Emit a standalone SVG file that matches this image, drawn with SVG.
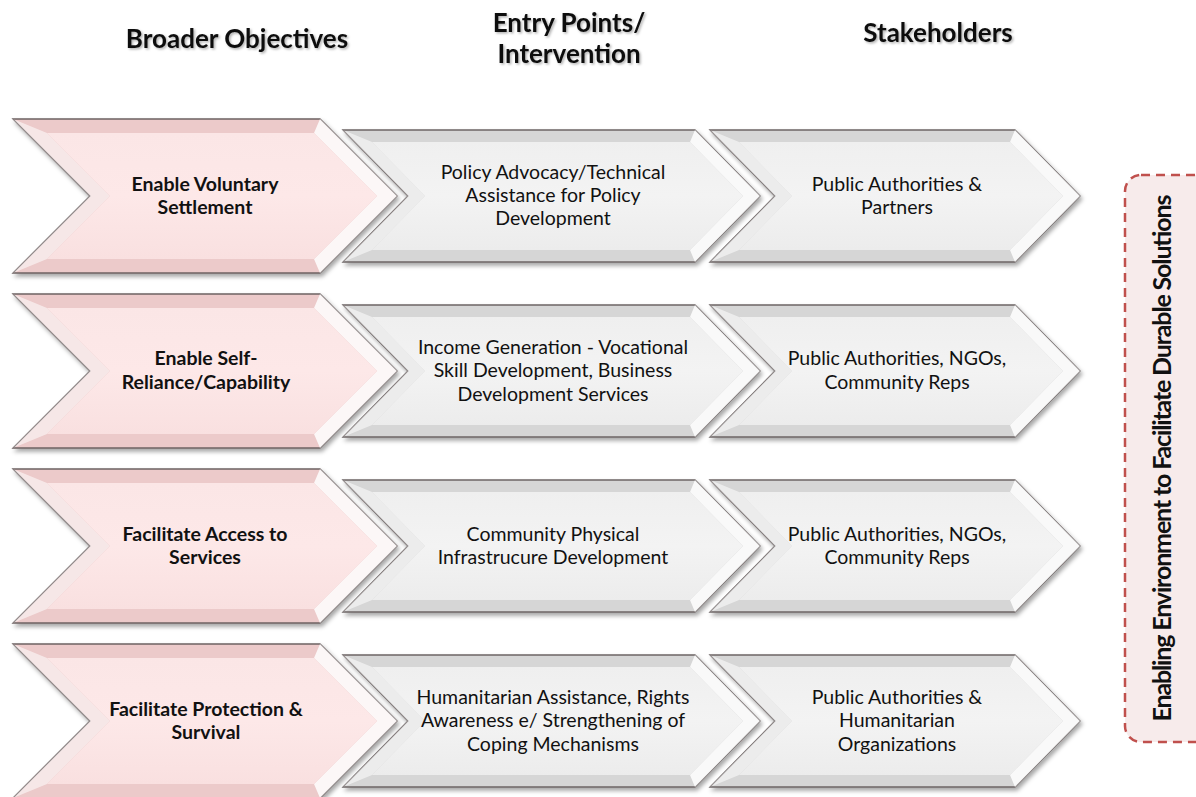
<svg xmlns="http://www.w3.org/2000/svg" width="1196" height="797" viewBox="0 0 1196 797">
<defs>
<style>
.hdr{font-family:Lato,"Liberation Sans",sans-serif;font-weight:bold;font-size:26px;fill:#111;text-anchor:middle;filter:url(#ts)}
.bt{font-family:Lato,"Liberation Sans",sans-serif;font-weight:bold;font-size:19.5px;fill:#111;text-anchor:middle}
.vt{font-family:Lato,"Liberation Sans",sans-serif;font-weight:bold;font-size:25px;fill:#111;text-anchor:middle}
.rt{font-family:Lato,"Liberation Sans",sans-serif;font-size:19.5px;fill:#111;text-anchor:middle}
.po{fill:#eccaca;stroke:#6e6262;stroke-width:1.3;filter:url(#sh)}
.pi{fill:url(#pg)}
.go{fill:#d6d6d6;stroke:#6e6666;stroke-width:1.3;filter:url(#sh)}
.gi{fill:url(#gg)}
.hl{fill:#ffffff;opacity:.85}
.hl2{fill:#ffffff;opacity:.55}
</style>
<filter id="sh" x="-5%" y="-5%" width="115%" height="120%"><feDropShadow dx="2" dy="3" stdDeviation="2" flood-color="#000" flood-opacity=".35"/></filter>
<filter id="ts" x="-5%" y="-20%" width="110%" height="150%"><feDropShadow dx="1.5" dy="1.5" stdDeviation="1" flood-color="#000" flood-opacity=".3"/></filter>
<linearGradient id="pg" x1="0" y1="0" x2="0" y2="1"><stop offset="0" stop-color="#fbe6e6"/><stop offset=".5" stop-color="#fde8e8"/><stop offset="1" stop-color="#f9e0e0"/></linearGradient>
<linearGradient id="gg" x1="0" y1="0" x2="0" y2="1"><stop offset="0" stop-color="#efefef"/><stop offset=".5" stop-color="#f3f3f3"/><stop offset="1" stop-color="#ececec"/></linearGradient>
</defs>
<g id="headers">
<text class="hdr" x="237" y="48">Broader Objectives</text>
<text class="hdr" x="569" y="32">Entry Points/</text>
<text class="hdr" x="569" y="63">Intervention</text>
<text class="hdr" x="938" y="42">Stakeholders</text>
</g>
<g id="rows">
<g id="row1">
<g id="obj1">
<polygon class="po" points="13,119 320,119 397,196 320,273 13,273 90,196"/>
<polygon class="hl" points="320,119 397,196 320,273 314,259 377,196 314,133"/>
<polygon class="hl2" points="13,119 90,196 13,273 47,259 110,196 47,133"/>
<polygon class="pi" points="47,133 314,133 377,196 314,259 47,259 110,196"/>
<text class="bt" x="205" y="191">Enable Voluntary</text>
<text class="bt" x="205" y="214">Settlement</text>
</g>
<g id="ent1">
<polygon class="go" points="343,130 695,130 760,196 695,262 343,262 408,196"/>
<polygon class="hl" points="695,130 760,196 695,262 690,250 743,196 690,142"/>
<polygon class="hl2" points="343,130 408,196 343,262 372,250 425,196 372,142"/>
<polygon class="gi" points="372,142 690,142 743,196 690,250 372,250 425,196"/>
<text class="rt" x="553" y="179">Policy Advocacy/Technical</text>
<text class="rt" x="553" y="202">Assistance for Policy</text>
<text class="rt" x="553" y="225">Development</text>
</g>
<g id="stk1">
<polygon class="go" points="710,130 1015,130 1080,196 1015,262 710,262 775,196"/>
<polygon class="hl" points="1015,130 1080,196 1015,262 1010,250 1063,196 1010,142"/>
<polygon class="hl2" points="710,130 775,196 710,262 739,250 792,196 739,142"/>
<polygon class="gi" points="739,142 1010,142 1063,196 1010,250 739,250 792,196"/>
<text class="rt" x="897" y="191">Public Authorities &amp;</text>
<text class="rt" x="897" y="214">Partners</text>
</g>
</g>
<g id="row2" transform="translate(0,175)">
<g id="obj2">
<polygon class="po" points="13,119 320,119 397,196 320,273 13,273 90,196"/>
<polygon class="hl" points="320,119 397,196 320,273 314,259 377,196 314,133"/>
<polygon class="hl2" points="13,119 90,196 13,273 47,259 110,196 47,133"/>
<polygon class="pi" points="47,133 314,133 377,196 314,259 47,259 110,196"/>
<text class="bt" x="206" y="190">Enable Self-</text>
<text class="bt" x="206" y="214">Reliance/Capability</text>
</g>
<g id="ent2">
<polygon class="go" points="343,130 695,130 760,196 695,262 343,262 408,196"/>
<polygon class="hl" points="695,130 760,196 695,262 690,250 743,196 690,142"/>
<polygon class="hl2" points="343,130 408,196 343,262 372,250 425,196 372,142"/>
<polygon class="gi" points="372,142 690,142 743,196 690,250 372,250 425,196"/>
<text class="rt" x="553" y="179">Income Generation - Vocational</text>
<text class="rt" x="553" y="202">Skill Development, Business</text>
<text class="rt" x="553" y="226">Development Services</text>
</g>
<g id="stk2">
<polygon class="go" points="710,130 1015,130 1080,196 1015,262 710,262 775,196"/>
<polygon class="hl" points="1015,130 1080,196 1015,262 1010,250 1063,196 1010,142"/>
<polygon class="hl2" points="710,130 775,196 710,262 739,250 792,196 739,142"/>
<polygon class="gi" points="739,142 1010,142 1063,196 1010,250 739,250 792,196"/>
<text class="rt" x="897" y="190">Public Authorities, NGOs,</text>
<text class="rt" x="897" y="214">Community Reps</text>
</g>
</g>
<g id="row3" transform="translate(0,350)">
<g id="obj3">
<polygon class="po" points="13,119 320,119 397,196 320,273 13,273 90,196"/>
<polygon class="hl" points="320,119 397,196 320,273 314,259 377,196 314,133"/>
<polygon class="hl2" points="13,119 90,196 13,273 47,259 110,196 47,133"/>
<polygon class="pi" points="47,133 314,133 377,196 314,259 47,259 110,196"/>
<text class="bt" x="205" y="191">Facilitate Access to</text>
<text class="bt" x="205" y="214">Services</text>
</g>
<g id="ent3">
<polygon class="go" points="343,130 695,130 760,196 695,262 343,262 408,196"/>
<polygon class="hl" points="695,130 760,196 695,262 690,250 743,196 690,142"/>
<polygon class="hl2" points="343,130 408,196 343,262 372,250 425,196 372,142"/>
<polygon class="gi" points="372,142 690,142 743,196 690,250 372,250 425,196"/>
<text class="rt" x="553" y="191">Community Physical</text>
<text class="rt" x="553" y="214">Infrastrucure Development</text>
</g>
<g id="stk3">
<polygon class="go" points="710,130 1015,130 1080,196 1015,262 710,262 775,196"/>
<polygon class="hl" points="1015,130 1080,196 1015,262 1010,250 1063,196 1010,142"/>
<polygon class="hl2" points="710,130 775,196 710,262 739,250 792,196 739,142"/>
<polygon class="gi" points="739,142 1010,142 1063,196 1010,250 739,250 792,196"/>
<text class="rt" x="897" y="191">Public Authorities, NGOs,</text>
<text class="rt" x="897" y="214">Community Reps</text>
</g>
</g>
<g id="row4" transform="translate(0,525)">
<g id="obj4">
<polygon class="po" points="13,119 320,119 397,196 320,273 13,273 90,196"/>
<polygon class="hl" points="320,119 397,196 320,273 314,259 377,196 314,133"/>
<polygon class="hl2" points="13,119 90,196 13,273 47,259 110,196 47,133"/>
<polygon class="pi" points="47,133 314,133 377,196 314,259 47,259 110,196"/>
<text class="bt" x="206" y="191">Facilitate Protection &amp;</text>
<text class="bt" x="206" y="214">Survival</text>
</g>
<g id="ent4">
<polygon class="go" points="343,130 695,130 760,196 695,262 343,262 408,196"/>
<polygon class="hl" points="695,130 760,196 695,262 690,250 743,196 690,142"/>
<polygon class="hl2" points="343,130 408,196 343,262 372,250 425,196 372,142"/>
<polygon class="gi" points="372,142 690,142 743,196 690,250 372,250 425,196"/>
<text class="rt" x="553" y="179">Humanitarian Assistance, Rights</text>
<text class="rt" x="553" y="202">Awareness e/ Strengthening of</text>
<text class="rt" x="553" y="226">Coping Mechanisms</text>
</g>
<g id="stk4">
<polygon class="go" points="710,130 1015,130 1080,196 1015,262 710,262 775,196"/>
<polygon class="hl" points="1015,130 1080,196 1015,262 1010,250 1063,196 1010,142"/>
<polygon class="hl2" points="710,130 775,196 710,262 739,250 792,196 739,142"/>
<polygon class="gi" points="739,142 1010,142 1063,196 1010,250 739,250 792,196"/>
<text class="rt" x="897" y="179">Public Authorities &amp;</text>
<text class="rt" x="897" y="202">Humanitarian</text>
<text class="rt" x="897" y="226">Organizations</text>
</g>
</g>
</g>
<g id="enabling">
<rect x="1125" y="175" width="90" height="567" rx="16" ry="16" fill="#f7ebeb" stroke="#c0504d" stroke-width="2.5" stroke-dasharray="9,6"/>
<text class="vt" textLength="527" lengthAdjust="spacing" transform="translate(1171,458) rotate(-90)">Enabling Environment to Facilitate Durable Solutions</text>
</g>
<g id="connectors"/>
</svg>
